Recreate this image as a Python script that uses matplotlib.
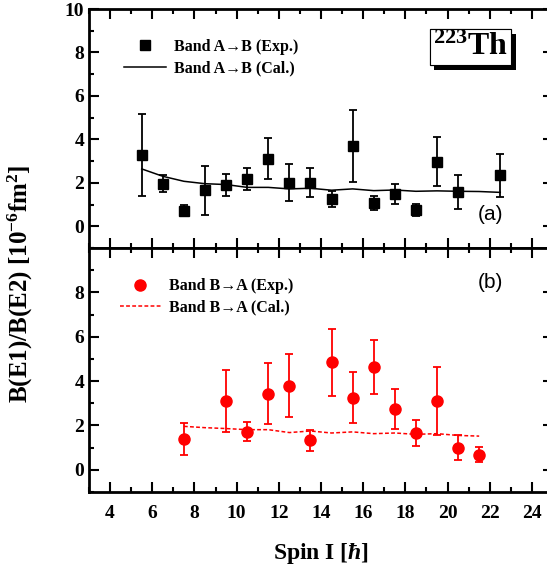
import matplotlib
matplotlib.use("Agg")
import matplotlib.pyplot as plt
import matplotlib.patheffects as pe
from matplotlib.lines import Line2D
from matplotlib.ticker import MultipleLocator

plt.rcParams['font.family'] = ['Liberation Serif', 'DejaVu Serif']
plt.rcParams['font.weight'] = 'bold'
plt.rcParams['mathtext.fontset'] = 'custom'
plt.rcParams['mathtext.rm'] = 'Liberation Serif:bold'
plt.rcParams['mathtext.bf'] = 'Liberation Serif:bold'
plt.rcParams['mathtext.it'] = 'Liberation Serif:italic:bold'

# ---------------- data: band A -> B ----------------
spin_ab = [5.5, 6.5, 7.5, 8.5, 9.5, 10.5, 11.5, 12.5, 13.5, 14.5, 15.5, 16.5, 17.5, 18.5, 19.5, 20.5, 22.5]
exp_ab = [3.27, 1.96, 0.72, 1.66, 1.90, 2.18, 3.11, 2.01, 2.01, 1.26, 3.71, 1.06, 1.50, 0.74, 2.98, 1.58, 2.35]
err_ab = [1.89, 0.40, 0.25, 1.12, 0.49, 0.52, 0.94, 0.84, 0.68, 0.38, 1.65, 0.33, 0.46, 0.27, 1.12, 0.77, 0.98]
spin_ab_cal = [5.5, 6.5, 7.5, 8.5, 9.5, 10.5, 11.5, 12.5, 13.5, 14.5, 15.5, 16.5, 17.5, 18.5, 19.5, 20.5, 21.5, 22.5]
cal_ab = [2.64, 2.30, 2.07, 1.96, 1.92, 1.79, 1.79, 1.72, 1.75, 1.66, 1.72, 1.64, 1.67, 1.61, 1.63, 1.61, 1.60, 1.56]

# ---------------- data: band B -> A ----------------
spin_ba = [7.5, 9.5, 10.5, 11.5, 12.5, 13.5, 14.5, 15.5, 16.5, 17.5, 18.5, 19.5, 20.5, 21.5]
exp_ba = [1.39, 3.11, 1.71, 3.44, 3.80, 1.33, 4.85, 3.26, 4.63, 2.73, 1.66, 3.11, 1.00, 0.68]
err_ba = [0.73, 1.39, 0.43, 1.38, 1.40, 0.46, 1.50, 1.15, 1.20, 0.90, 0.57, 1.53, 0.55, 0.34]
spin_ba_cal = [7.5, 8.5, 9.5, 10.5, 11.5, 12.5, 13.5, 14.5, 15.5, 16.5, 17.5, 18.5, 19.5, 20.5, 21.5]
cal_ba = [1.96, 1.90, 1.86, 1.81, 1.81, 1.68, 1.75, 1.66, 1.71, 1.63, 1.66, 1.60, 1.63, 1.55, 1.52]

W, H = 547, 569
fig = plt.figure(figsize=(W / 100, H / 100), dpi=100)

left = 89 / W
width = (553 - 89) / W
ax1 = fig.add_axes([left, 1 - 248 / H, width, (248 - 9) / H])
ax2 = fig.add_axes([left, 1 - 492 / H, width, (492 - 248) / H])


def style(ax, show_x):
    ax.set_xlim(3, 25)
    ax.set_ylim(-1, 10)
    ax.xaxis.set_major_locator(MultipleLocator(2))
    ax.xaxis.set_minor_locator(MultipleLocator(1))
    ax.yaxis.set_major_locator(MultipleLocator(2))
    ax.yaxis.set_minor_locator(MultipleLocator(1))
    ax.tick_params(which='both', direction='in', top=True, right=True, width=1.5)
    ax.tick_params(which='major', length=7, labelsize=14)
    ax.tick_params(which='minor', length=3.5)
    for s in ax.spines.values():
        s.set_linewidth(2)
    if not show_x:
        ax.tick_params(labelbottom=False)
    for lab in ax.get_xticklabels() + ax.get_yticklabels():
        lab.set_fontweight('bold')


style(ax1, False)
style(ax2, True)
ax2.set_yticks([0, 2, 4, 6, 8])
ax2.yaxis.set_minor_locator(MultipleLocator(1))
ax2.tick_params(axis='x', pad=9)

leg_prop = {'weight': 'bold', 'size': 11.5}

# panel (a)
ax1.errorbar(spin_ab, exp_ab, yerr=err_ab, fmt='s', color='black', ms=6.5,
             elinewidth=1.3, capsize=3, capthick=1.3)
ax1.plot(spin_ab_cal, cal_ab, '-', color='black', lw=1.1)
h1 = [Line2D([], [], ls='none', marker='s', color='black', ms=6.5),
      Line2D([], [], ls='-', color='black', lw=1.1)]
ax1.legend(h1, ['Band A\u2192B (Exp.)', 'Band A\u2192B (Cal.)'], loc='upper left',
           bbox_to_anchor=(0.045, 0.935), frameon=False, prop=leg_prop,
           handlelength=2.6, labelspacing=0.35, handletextpad=0.5)
ax1.text(0.865, 0.14, '(a)', transform=ax1.transAxes, ha='center', va='center',
         family='Liberation Sans', fontweight='normal', fontsize=15)
t = ax1.text(0.822, 0.84, r'$\mathbf{{}^{223}Th}$', transform=ax1.transAxes, ha='center', va='center',
             fontsize=23,
             bbox=dict(boxstyle='square,pad=0.1', fc='white', ec='black', lw=0.8))
t.get_bbox_patch().set_path_effects([pe.withSimplePatchShadow(offset=(3.5, -3.5), shadow_rgbFace='black', alpha=1.0),
                                     pe.Normal()])

# panel (b)
ax2.errorbar(spin_ba, exp_ba, yerr=err_ba, fmt='o', color='red', ms=8,
             elinewidth=1.3, capsize=3, capthick=1.3)
ax2.plot(spin_ba_cal, cal_ba, '--', color='red', lw=1.1, dashes=(2.5, 1.5))
h2 = [Line2D([], [], ls='none', marker='o', color='red', ms=8),
      Line2D([], [], ls='--', color='red', lw=1.1, dashes=(2.5, 1.5))]
ax2.legend(h2, ['Band B\u2192A (Exp.)', 'Band B\u2192A (Cal.)'], loc='upper left',
           bbox_to_anchor=(0.035, 0.935), frameon=False, prop=leg_prop,
           handlelength=2.6, labelspacing=0.35, handletextpad=0.5)
ax2.text(0.865, 0.86, '(b)', transform=ax2.transAxes, ha='center', va='center',
         family='Liberation Sans', fontweight='normal', fontsize=15)

ax2.set_xlabel(r'Spin I [$\mathit{ħ}$]', fontsize=17, fontweight='bold', labelpad=14)
fig.text(20 / W, 1 - 284 / H, r'B(E1)/B(E2) [10$^{-6}$fm$^{2}$]', rotation=90,
         ha='center', va='center', fontsize=18, fontweight='bold')

fig.savefig('out.png', dpi=100)
